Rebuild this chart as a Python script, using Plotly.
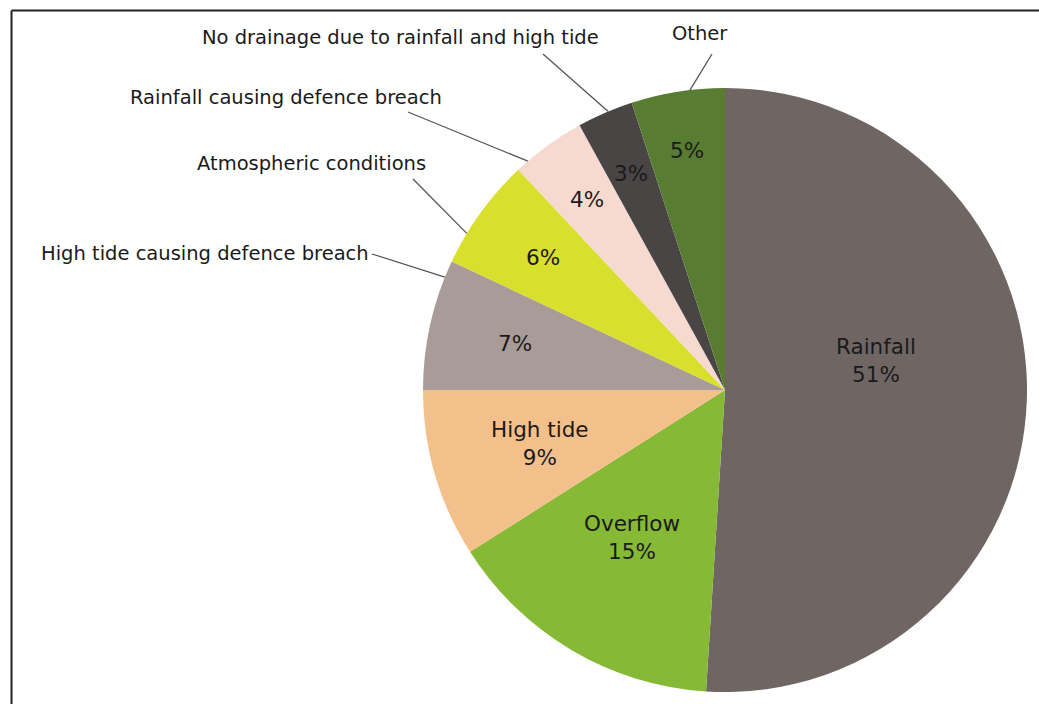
import numpy as np
import plotly.graph_objects as go

# ---- data ----
categories = ["Rainfall", "Overflow", "High tide", "High tide causing defence breach",
              "Atmospheric conditions", "Rainfall causing defence breach",
              "No drainage due to rainfall and high tide", "Other"]
values = [51, 15, 9, 7, 6, 4, 3, 5]
colors = ["#6f6664", "#86b935", "#f3c08c", "#a89b98", "#d8df2c", "#f6dad0", "#4a4545", "#587c31"]

# ---- layout constants ----
W, H = 1039, 704
CX, CY, R = 725, 390, 302
FONT = "DejaVu Sans"
TXT = "#1a1a1a"

def to_paper(px, py):
    return px / W, 1 - py / H

def polar(angle_deg, r):
    a = np.radians(angle_deg)
    return CX + r * np.sin(a), CY - r * np.cos(a)

total = float(sum(values))
cum = np.concatenate([[0], np.cumsum(values)]) / total * 360.0

fig = go.Figure()
x0, y1 = to_paper(CX - R, CY - R)
x1, y0 = to_paper(CX + R, CY + R)
fig.add_trace(go.Pie(
    labels=categories, values=values, sort=False, direction="clockwise", rotation=0,
    marker=dict(colors=colors, line=dict(width=0)),
    textinfo="none", hoverinfo="label+percent", showlegend=False,
    domain=dict(x=[x0, x1], y=[y0, y1]),
))

annotations = []
shapes = []

# inside labels (name shown for the three largest slices)
show_name = [True, True, True, False, False, False, False, False]
label_r = [154, 174, 193, 215, 225, 235, 236, 242]
angle_off = [-13, 1.7, 0, 0, 0, 0, 0, 0]
for i, v in enumerate(values):
    mid = (cum[i] + cum[i + 1]) / 2 + angle_off[i]
    px, py = polar(mid, label_r[i])
    pct = f"{round(v / total * 100)}%"
    txt = f"{categories[i]}<br>{pct}" if show_name[i] else pct
    xp, yp = to_paper(px, py)
    annotations.append(dict(x=xp, y=yp, xref="paper", yref="paper", text=txt,
                            showarrow=False, xanchor="center", yanchor="middle",
                            font=dict(family=FONT, size=21.5, color=TXT)))

# outside labels with leader lines
outside = {
    3: dict(tx=371, ty=253, anchor="right", lx=372, ly=254, frac=0.87),
    4: dict(tx=428, ty=163, anchor="right", lx=413, ly=179, frac=0.28),
    5: dict(tx=444, ty=97, anchor="right", lx=408, ly=112, frac=0.17),
    6: dict(tx=400, ty=38, anchor="center", lx=543, ly=54, frac=0.56),
    7: dict(tx=700, ty=33, anchor="center", lx=712, ly=54, frac=0.63),
}
for i, o in outside.items():
    ang = cum[i] + o["frac"] * (cum[i + 1] - cum[i])
    ex, ey = polar(ang, R)
    xa, ya = to_paper(o["lx"], o["ly"])
    xb, yb = to_paper(ex, ey)
    shapes.append(dict(type="line", xref="paper", yref="paper", x0=xa, y0=ya, x1=xb, y1=yb,
                       line=dict(color="#555555", width=1.3)))
    tx, ty = to_paper(o["tx"], o["ty"])
    annotations.append(dict(x=tx, y=ty, xref="paper", yref="paper", text=categories[i],
                            showarrow=False, xanchor=o["anchor"], yanchor="middle",
                            font=dict(family=FONT, size=19.5, color=TXT)))

# frame (left and top edges visible)
fx, fy = to_paper(11.5, 10.5)
shapes.append(dict(type="line", xref="paper", yref="paper", x0=fx, y0=fy, x1=fx, y1=-0.05,
                   line=dict(color="#222222", width=2)))
shapes.append(dict(type="line", xref="paper", yref="paper", x0=fx, y0=fy, x1=1.05, y1=fy,
                   line=dict(color="#222222", width=2)))

fig.update_layout(
    width=W, height=H, margin=dict(l=0, r=0, t=0, b=0),
    paper_bgcolor="white", plot_bgcolor="white",
    annotations=annotations, shapes=shapes,
)

fig.write_html("out.html")
